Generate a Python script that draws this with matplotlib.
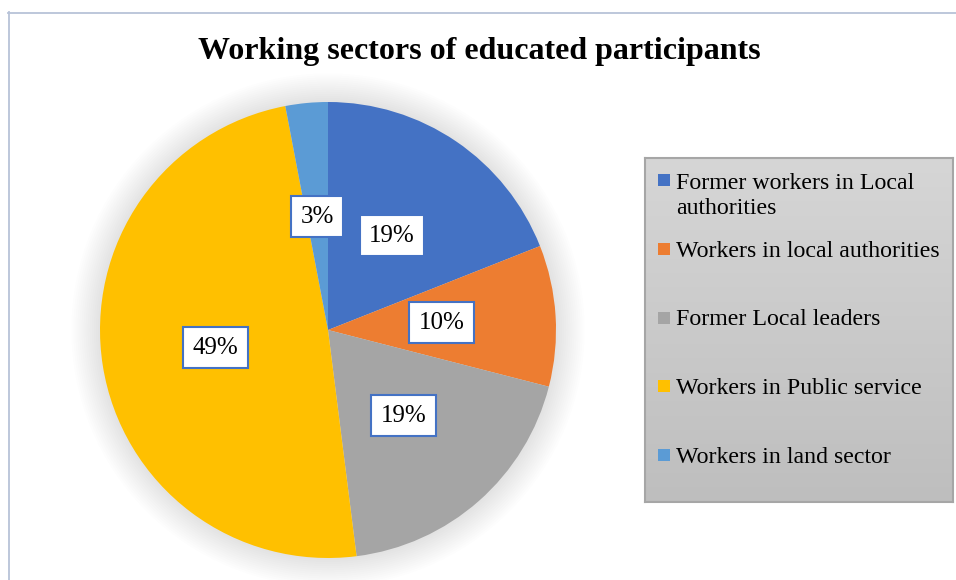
import numpy as np
import matplotlib
matplotlib.use("Agg")
import matplotlib.pyplot as plt
from matplotlib.patches import Rectangle, Circle
from matplotlib.lines import Line2D
from matplotlib.colors import LinearSegmentedColormap

# ---- data ----
categories = ["Former workers in Local\nauthorities",
              "Workers in local authorities",
              "Former Local leaders",
              "Workers in Public service",
              "Workers in land sector"]
values = [19, 10, 19, 49, 3]
colors = ["#4472C4", "#ED7D31", "#A5A5A5", "#FFC000", "#5B9BD5"]
title = "Working sectors of educated participants"

plt.rcParams['font.family'] = ['Liberation Serif', 'DejaVu Serif']

W, H = 956, 580
fig = plt.figure(figsize=(W / 100, H / 100), dpi=100)
fig.patch.set_facecolor("white")


def fx(px):
    return px / W


def fy(py):
    return 1 - py / H


# chart area border (only top/left visible)
bcol = "#B8C3D8"
fig.add_artist(Line2D([fx(8.5), fx(8.5)], [fy(12), fy(590)], color=bcol, lw=1.3))
fig.add_artist(Line2D([fx(8), fx(970)], [fy(12.5), fy(12.5)], color=bcol, lw=1.3))

# title
fig.text(fx(479), fy(52), title, ha="center", va="center",
         fontsize=23, fontweight="bold", color="black")

# pie
cx, cy, r = 328, 330, 228
ax = fig.add_axes([fx(cx - r), fy(cy + r), 2 * r / W, 2 * r / H])
for k in range(14):
    ax.add_patch(Circle((0, 0), 1.0 + 0.009 * (k + 1), facecolor="black",
                        alpha=0.009, lw=0, clip_on=False, zorder=0))
wedges, texts, autotexts = ax.pie(
    values, colors=colors, startangle=90, counterclock=False,
    autopct="%1.0f%%", pctdistance=0.5,
    wedgeprops=dict(linewidth=0),
    textprops=dict(fontsize=18, color="black"))
for w in wedges:
    w.set_zorder(2)
for t in autotexts:
    t.set_zorder(5)
    t.set_bbox(dict(boxstyle="square,pad=0.38", facecolor="white",
                    edgecolor="#4472C4", linewidth=1.5))
ax.set_xlim(-1, 1)
ax.set_ylim(-1, 1)
ax.set_aspect("equal")
ax.axis("off")

# legend box with gradient
lx0, ly0, lx1, ly1 = 645, 158, 953, 502
lax = fig.add_axes([fx(lx0), fy(ly1), (lx1 - lx0) / W, (ly1 - ly0) / H])
cmap = LinearSegmentedColormap.from_list("g", ["#D6D6D6", "#BEBEBE"])
grad = np.linspace(0, 1, 256).reshape(-1, 1)
lax.imshow(grad, cmap=cmap, aspect="auto", extent=[0, 1, 0, 1], origin="upper")
lax.set_xticks([])
lax.set_yticks([])
for s in lax.spines.values():
    s.set_color("#A6A6A6")
    s.set_linewidth(1.5)

line_gap = 26
for i, (lab, col) in enumerate(zip(categories, colors)):
    yc = 180 + 68.75 * i
    fig.add_artist(Rectangle((fx(658), fy(yc + 6)), 12 / W, 12 / H,
                             facecolor=col, edgecolor="none",
                             transform=fig.transFigure))
    nlines = lab.count("\n") + 1
    fig.text(fx(676), fy(yc + 7.8 + line_gap * (nlines - 1)), lab,
             ha="left", va="baseline", fontsize=17.2, color="black",
             linespacing=1.24)

fig.savefig("out.png", dpi=100)
